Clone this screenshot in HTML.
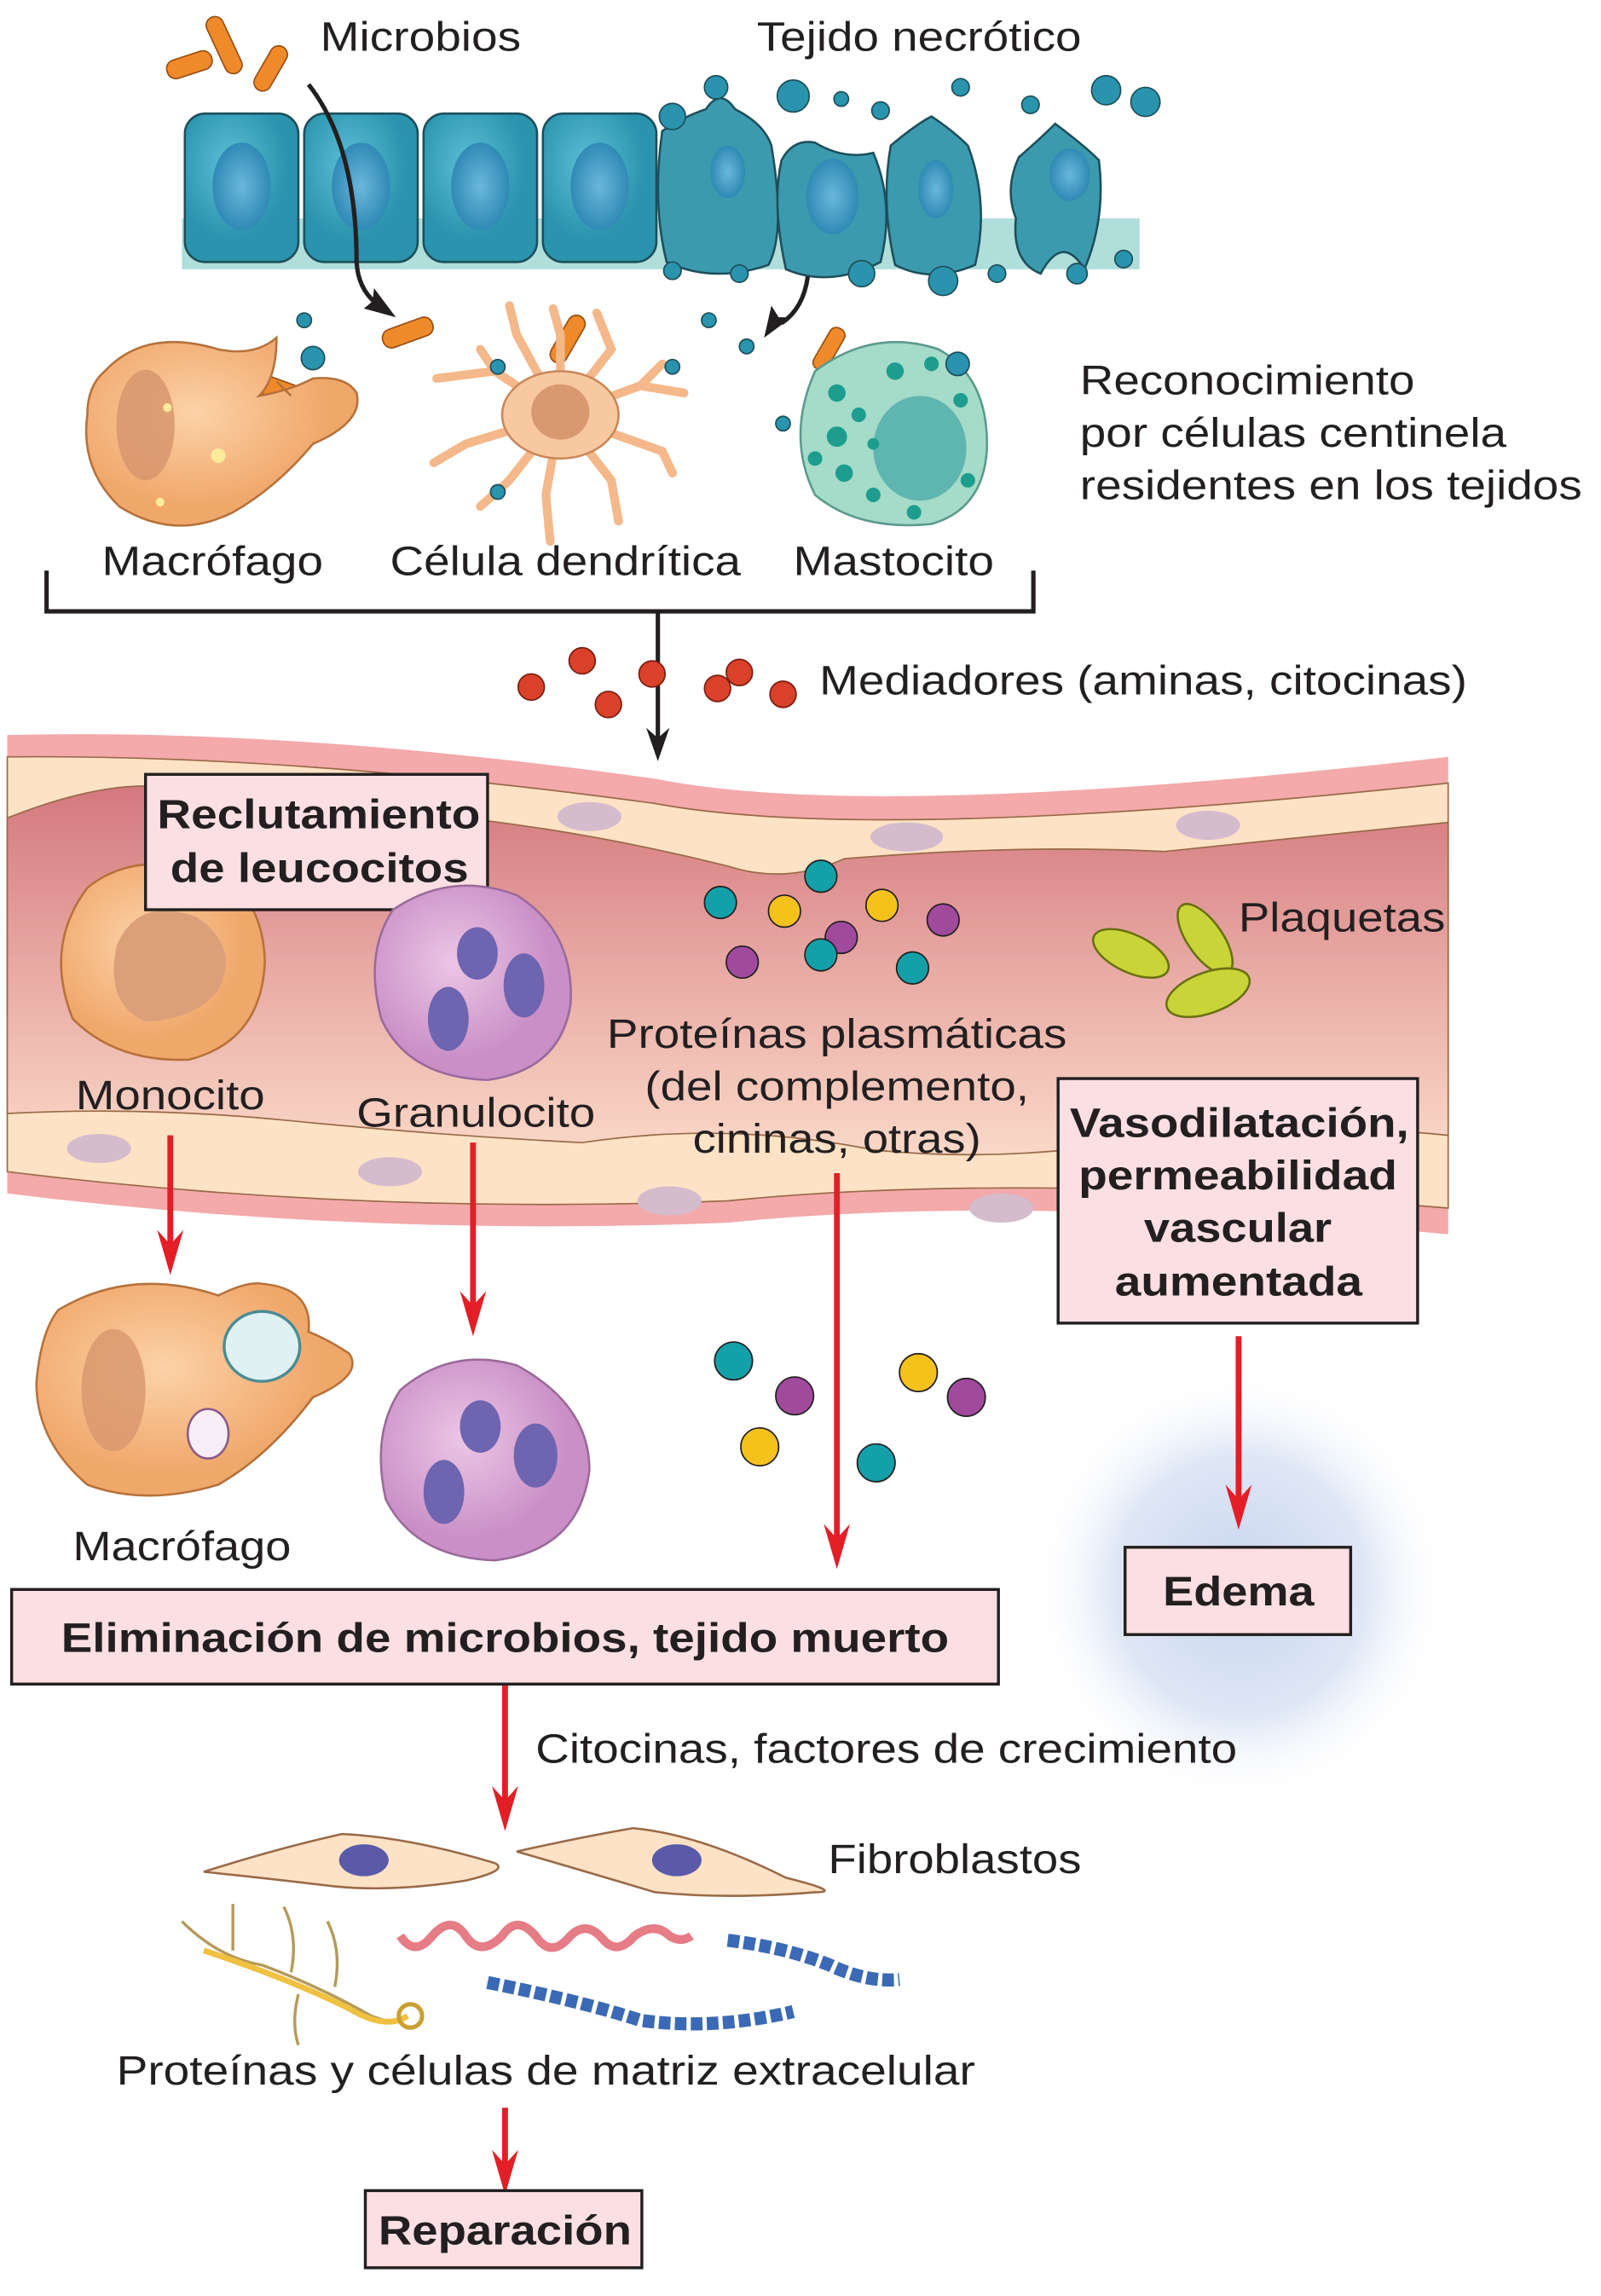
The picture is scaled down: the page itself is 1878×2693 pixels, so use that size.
<!DOCTYPE html>
<html><head><meta charset="utf-8"><style>
html,body{margin:0;padding:0;background:#fff}
svg{display:block}
text{font-family:"Liberation Sans",Arial,sans-serif;fill:#231f20}
.l{font-size:28px}
.b{font-size:28px;font-weight:bold}
</style></head><body>
<svg width="1878" height="2693" viewBox="0 0 1100 1577.4" preserveAspectRatio="none" xmlns="http://www.w3.org/2000/svg">
<defs>
<linearGradient id="lum" x1="0" y1="0" x2="0" y2="1"><stop offset="0" stop-color="#d4787e"/><stop offset="0.5" stop-color="#e8aaa4"/><stop offset="1" stop-color="#fad8c8"/></linearGradient>
<radialGradient id="glow"><stop offset="0" stop-color="#c7d5ee"/><stop offset="0.6" stop-color="#dfe7f6"/><stop offset="1" stop-color="#fff" stop-opacity="0"/></radialGradient>
<radialGradient id="teal" cx="0.4" cy="0.35"><stop offset="0" stop-color="#5cc0d6"/><stop offset="1" stop-color="#2a93ad"/></radialGradient>
<radialGradient id="nuc" cx="0.5" cy="0.5"><stop offset="0" stop-color="#6bb7dc"/><stop offset="1" stop-color="#2f8ab5"/></radialGradient>
<radialGradient id="mac" cx="0.4" cy="0.4"><stop offset="0" stop-color="#fcd2a8"/><stop offset="1" stop-color="#f0a76a"/></radialGradient>
<radialGradient id="gran" cx="0.4" cy="0.4"><stop offset="0" stop-color="#ecc6e6"/><stop offset="1" stop-color="#c98fc6"/></radialGradient>
</defs>

<!-- top epithelium -->
<g>
<rect x="125" y="150" width="658" height="35" fill="#afdedb"/>
<g stroke="#1d4f5a" stroke-width="1.5">
<rect x="127" y="78" width="78" height="102" rx="14" fill="url(#teal)"/>
<rect x="209" y="78" width="78" height="102" rx="14" fill="url(#teal)"/>
<rect x="291" y="78" width="78" height="102" rx="14" fill="url(#teal)"/>
<rect x="373" y="78" width="78" height="102" rx="14" fill="url(#teal)"/>
<path d="M455,90 Q470,80 485,75 Q495,60 505,75 Q525,85 530,100 Q540,160 528,182 Q490,195 458,180 Q448,140 455,90Z" fill="#3c9aaf"/>
<path d="M537,110 Q545,95 560,98 Q580,110 600,105 Q615,140 605,180 Q570,198 540,185 Q530,140 537,110Z" fill="#3c9aaf"/>
<path d="M612,100 Q630,85 640,80 Q655,90 665,100 Q680,140 670,182 Q640,195 615,182 Q605,140 612,100Z" fill="#3c9aaf"/>
<path d="M700,108 Q715,95 725,85 Q745,100 755,110 Q760,150 745,185 Q730,160 715,188 Q695,180 698,150 Q690,130 700,108Z" fill="#3c9aaf"/>
</g>
<g fill="url(#nuc)"><ellipse cx="166" cy="128" rx="20" ry="30"/><ellipse cx="248" cy="128" rx="20" ry="30"/><ellipse cx="330" cy="128" rx="20" ry="30"/><ellipse cx="412" cy="128" rx="20" ry="30"/><ellipse cx="500" cy="118" rx="12" ry="18"/><ellipse cx="572" cy="135" rx="18" ry="26"/><ellipse cx="643" cy="130" rx="12" ry="20"/><ellipse cx="735" cy="120" rx="14" ry="18"/></g>
<g fill="#2a93ad" stroke="#1d4f5a" stroke-width="1"><circle cx="462" cy="80" r="9"/><circle cx="492" cy="60" r="8"/><circle cx="545" cy="66" r="11"/><circle cx="578" cy="68" r="5"/><circle cx="605" cy="76" r="6"/><circle cx="660" cy="60" r="6"/><circle cx="708" cy="72" r="6"/><circle cx="760" cy="62" r="10"/><circle cx="787" cy="70" r="10"/><circle cx="462" cy="186" r="6"/><circle cx="508" cy="188" r="6"/><circle cx="592" cy="188" r="9"/><circle cx="648" cy="193" r="10"/><circle cx="685" cy="188" r="6"/><circle cx="740" cy="188" r="7"/><circle cx="772" cy="178" r="6"/></g>
</g>
<!-- microbes -->
<g fill="#ef8a2a" stroke="#9a4f12" stroke-width="1">
<rect x="148" y="10" width="12" height="42" rx="6" transform="rotate(-25 154 31)"/>
<rect x="180" y="30" width="12" height="34" rx="6" transform="rotate(30 186 47)"/>
<rect x="114" y="38" width="32" height="13" rx="6" transform="rotate(-18 130 44)"/>
<rect x="262" y="222" width="36" height="13" rx="6" transform="rotate(-20 280 228)"/>
<rect x="384" y="215" width="12" height="36" rx="6" transform="rotate(30 390 233)"/>
<rect x="175" y="262" width="38" height="13" rx="6" transform="rotate(20 194 268)"/>
<rect x="564" y="224" width="11" height="32" rx="5" transform="rotate(30 570 240)"/>
</g>
<text class="l" x="220" y="35" textLength="138" lengthAdjust="spacingAndGlyphs">Microbios</text>
<text class="l" x="520" y="35" textLength="223" lengthAdjust="spacingAndGlyphs">Tejido necrótico</text>
<g>
<path d="M212,58 Q245,100 245,180 Q246,198 258,208" fill="none" stroke="#231f20" stroke-width="3"/>
<polygon points="272,218 250,212 256,207 257,198" fill="#231f20"/>
</g>
<g>
<path d="M555,190 Q552,212 537,222" fill="none" stroke="#231f20" stroke-width="3"/>
<polygon points="525,232 530,210 535,218 544,218" fill="#231f20"/>
</g>

<!-- sentinel cells -->
<g>
<path d="M72,255 Q100,225 150,240 Q175,245 190,232 Q190,260 178,272 Q200,268 215,260 Q238,258 245,270 Q250,290 215,305 Q190,335 160,352 Q120,372 82,348 Q55,322 60,285 Q60,265 72,255Z M190,262 L200,272" fill="url(#mac)" stroke="#b6713b" stroke-width="1.5"/>
<ellipse cx="100" cy="292" rx="20" ry="38" fill="#d6946b" opacity="0.8"/>
<g fill="#fdeb9a"><circle cx="115" cy="280" r="3"/><circle cx="150" cy="313" r="5"/><circle cx="110" cy="345" r="3"/></g>
</g>
<g stroke="#f5b88a" stroke-width="6" stroke-linecap="round" fill="none">
<path d="M385,285 L340,255 L300,260 M385,285 L355,230 L350,210 M385,285 L385,230 L380,212 M385,285 L420,240 L410,215 M385,285 L440,265 L470,270 M385,285 L455,310 L462,325 M385,285 L420,330 L425,358 M385,285 L375,340 L378,372 M385,285 L350,330 L330,348 M385,285 L320,305 L298,318 M340,255 L330,240 M440,265 L455,250"/>
<ellipse cx="385" cy="285" rx="40" ry="30" fill="#f8c8a0" stroke="#c9875a" stroke-width="1.5"/>
<ellipse cx="385" cy="283" rx="20" ry="19" fill="#d9996f" stroke="none"/>
</g>
<g>
<path d="M560,255 Q600,225 645,240 Q680,260 678,310 Q675,350 640,360 Q590,365 560,340 Q540,300 560,255Z" fill="#a5dbc9" stroke="#5a9a8c" stroke-width="1.5"/>
<ellipse cx="632" cy="308" rx="32" ry="36" fill="#5fb5b0"/>
<g fill="#1e9d8f"><circle cx="575" cy="270" r="6"/><circle cx="590" cy="285" r="5"/><circle cx="575" cy="300" r="7"/><circle cx="580" cy="325" r="6"/><circle cx="600" cy="340" r="5"/><circle cx="615" cy="255" r="6"/><circle cx="640" cy="250" r="5"/><circle cx="660" cy="275" r="5"/><circle cx="665" cy="330" r="5"/><circle cx="600" cy="305" r="4"/><circle cx="628" cy="352" r="5"/><circle cx="560" cy="315" r="5"/></g>
</g>
<g fill="#2a93ad" stroke="#1d4f5a" stroke-width="1"><circle cx="209" cy="220" r="5"/><circle cx="215" cy="246" r="8"/><circle cx="342" cy="252" r="5"/><circle cx="462" cy="252" r="5"/><circle cx="487" cy="220" r="5"/><circle cx="513" cy="238" r="5"/><circle cx="658" cy="250" r="8"/><circle cx="538" cy="291" r="5"/><circle cx="342" cy="338" r="5"/></g>
<text class="l" x="70" y="395" textLength="152" lengthAdjust="spacingAndGlyphs">Macrófago</text>
<text class="l" x="268" y="395" textLength="241" lengthAdjust="spacingAndGlyphs">Célula dendrítica</text>
<text class="l" x="545" y="395" textLength="138" lengthAdjust="spacingAndGlyphs">Mastocito</text>
<g>
<text class="l" x="742" y="271" textLength="230" lengthAdjust="spacingAndGlyphs">Reconocimiento</text>
<text class="l" x="742" y="307" textLength="293" lengthAdjust="spacingAndGlyphs">por células centinela</text>
<text class="l" x="742" y="343" textLength="345" lengthAdjust="spacingAndGlyphs">residentes en los tejidos</text>
</g>
<path d="M32,392 V420 H710 V392 M452,420 V510" fill="none" stroke="#231f20" stroke-width="3"/>
<polygon points="444,500 452,523 460,500 452,507" fill="#231f20"/>
<g fill="#d9412a" stroke="#7a1d10" stroke-width="1"><circle cx="365" cy="472" r="9"/><circle cx="400" cy="454" r="9"/><circle cx="418" cy="484" r="9"/><circle cx="448" cy="463" r="9"/><circle cx="493" cy="473" r="9"/><circle cx="508" cy="462" r="9"/><circle cx="538" cy="477" r="9"/></g>
<text class="l" x="563" y="477" textLength="445" lengthAdjust="spacingAndGlyphs">Mediadores (aminas, citocinas)</text>

<!-- vessel -->
<g>
<path d="M5,505 Q200,500 450,535 Q600,565 995,520 L995,848 Q700,820 500,840 Q250,850 5,820Z" fill="#f4a9ab"/>
<path d="M5,520 Q200,518 450,552 Q600,580 995,538 L995,830 Q700,805 500,825 Q250,835 5,805Z" fill="#fde2c6" stroke="#9a6a48" stroke-width="1"/>
<path d="M5,562 Q60,540 100,540 Q200,545 300,560 Q400,570 500,595 Q540,608 580,590 Q700,580 800,585 Q900,575 995,565 L995,780 Q900,770 800,780 Q700,800 600,790 Q500,770 400,785 Q300,780 200,770 Q100,760 5,765Z" fill="url(#lum)" stroke="#9a6a48" stroke-width="1"/>
<g fill="#d4bccd"><ellipse cx="405" cy="561" rx="22" ry="10"/><ellipse cx="623" cy="575" rx="25" ry="10"/><ellipse cx="830" cy="567" rx="22" ry="10"/><ellipse cx="68" cy="789" rx="22" ry="10"/><ellipse cx="268" cy="805" rx="22" ry="10"/><ellipse cx="460" cy="825" rx="22" ry="10"/><ellipse cx="688" cy="830" rx="22" ry="10"/></g>
</g>
<g>
<path d="M60,610 Q90,585 140,598 Q180,610 182,660 Q180,715 130,728 Q80,730 50,700 Q30,650 60,610Z" fill="url(#mac)" stroke="#b6713b" stroke-width="1.5"/>
<path d="M80,650 Q95,615 135,630 Q165,650 150,680 Q135,700 100,702 Q72,690 80,650Z" fill="#dba07a"/>
</g>
<rect x="100" y="532" width="235" height="93" fill="#fbdfe2" stroke="#231f20" stroke-width="2"/>
<text class="b" x="108" y="569" textLength="222" lengthAdjust="spacingAndGlyphs">Reclutamiento</text>
<text class="b" x="117" y="606" textLength="205" lengthAdjust="spacingAndGlyphs">de leucocitos</text>
<g>
<path d="M270,625 Q310,598 355,615 Q395,640 392,690 Q385,735 335,742 Q280,740 262,700 Q250,655 270,625Z" fill="url(#gran)" stroke="#9a6a9a" stroke-width="1.5"/>
<g fill="#6e64b0"><ellipse cx="328" cy="655" rx="14" ry="18"/><ellipse cx="360" cy="677" rx="14" ry="22"/><ellipse cx="308" cy="700" rx="14" ry="22"/></g>
</g>
<g stroke="#231f20" stroke-width="1">
<circle cx="495" cy="620" r="11" fill="#13a0a8"/><circle cx="564" cy="602" r="11" fill="#13a0a8"/><circle cx="539" cy="626" r="11" fill="#f5c21b"/><circle cx="606" cy="622" r="11" fill="#f5c21b"/><circle cx="648" cy="632" r="11" fill="#a04a9e"/><circle cx="578" cy="644" r="11" fill="#a04a9e"/><circle cx="564" cy="656" r="11" fill="#13a0a8"/><circle cx="510" cy="661" r="11" fill="#a04a9e"/><circle cx="627" cy="665" r="11" fill="#13a0a8"/>
</g>
<g fill="#c9d438" stroke="#6a7010" stroke-width="1.5">
<ellipse cx="777" cy="655" rx="28" ry="13" transform="rotate(25 777 655)"/><ellipse cx="828" cy="645" rx="28" ry="12" transform="rotate(55 828 645)"/><ellipse cx="830" cy="682" rx="30" ry="14" transform="rotate(-20 830 682)"/>
</g>
<text class="l" x="851" y="640" textLength="142" lengthAdjust="spacingAndGlyphs">Plaquetas</text>
<text class="l" x="52" y="762" textLength="130" lengthAdjust="spacingAndGlyphs">Monocito</text>
<text class="l" x="245" y="774" textLength="164" lengthAdjust="spacingAndGlyphs">Granulocito</text>
<g>
<text class="l" x="417" y="720" textLength="316" lengthAdjust="spacingAndGlyphs">Proteínas plasmáticas</text>
<text class="l" x="443" y="756" textLength="264" lengthAdjust="spacingAndGlyphs">(del complemento,</text>
<text class="l" x="476" y="792" textLength="198" lengthAdjust="spacingAndGlyphs">cininas, otras)</text>
</g>
<ellipse cx="852" cy="1090" rx="145" ry="150" fill="url(#glow)"/>
<rect x="727" y="741" width="247" height="168" fill="#fbdfe2" stroke="#231f20" stroke-width="2"/>
<g><text class="b" x="735" y="781" textLength="233" lengthAdjust="spacingAndGlyphs">Vasodilatación,</text><text class="b" x="741" y="817" textLength="219" lengthAdjust="spacingAndGlyphs">permeabilidad</text><text class="b" x="786" y="853" textLength="129" lengthAdjust="spacingAndGlyphs">vascular</text><text class="b" x="766" y="890" textLength="170" lengthAdjust="spacingAndGlyphs">aumentada</text></g>

<!-- red arrows -->
<g>
<g stroke="#e41e26" stroke-width="4" fill="none">
<path d="M117,780 V860"/><path d="M325,785 V902"/><path d="M575,806 V1062"/><path d="M851,918 V1035"/><path d="M347,1158 V1242"/><path d="M347,1448 V1492"/>
</g>
<g fill="#e41e26">
<polygon points="108,845 117,876 126,845 117,855"/>
<polygon points="316,887 325,918 334,887 325,897"/>
<polygon points="566,1047 575,1078 584,1047 575,1057"/>
<polygon points="842,1020 851,1051 860,1020 851,1030"/>
<polygon points="338,1227 347,1258 356,1227 347,1237"/>
<polygon points="338,1477 347,1508 356,1477 347,1487"/>
</g>
</g>

<!-- lower cells -->
<g>
<path d="M40,900 Q90,870 150,890 Q170,880 180,882 Q215,885 212,915 Q225,920 240,930 Q250,945 215,960 Q185,1000 150,1020 Q100,1035 60,1020 Q25,990 25,950 Q28,915 40,900Z" fill="url(#mac)" stroke="#b6713b" stroke-width="1.5"/>
<ellipse cx="78" cy="955" rx="22" ry="42" fill="#d9996f" opacity="0.85"/>
<ellipse cx="180" cy="925" rx="26" ry="24" fill="#dff1f0" stroke="#4a8c96" stroke-width="2"/>
<ellipse cx="143" cy="985" rx="14" ry="17" fill="#f6eef6" stroke="#8a5a8a" stroke-width="1.5"/>
</g>
<text class="l" x="50" y="1072" textLength="150" lengthAdjust="spacingAndGlyphs">Macrófago</text>
<g>
<path d="M275,955 Q310,925 355,938 Q405,965 405,1010 Q398,1065 340,1072 Q285,1070 265,1030 Q255,985 275,955Z" fill="url(#gran)" stroke="#9a6a9a" stroke-width="1.5"/>
<g fill="#6e64b0"><ellipse cx="330" cy="980" rx="14" ry="18"/><ellipse cx="368" cy="1000" rx="15" ry="22"/><ellipse cx="305" cy="1025" rx="14" ry="22"/></g>
</g>
<g stroke="#231f20" stroke-width="1">
<circle cx="504" cy="935" r="13" fill="#13a0a8"/><circle cx="546" cy="959" r="13" fill="#a04a9e"/><circle cx="631" cy="943" r="13" fill="#f5c21b"/><circle cx="664" cy="960" r="13" fill="#a04a9e"/><circle cx="522" cy="994" r="13" fill="#f5c21b"/><circle cx="602" cy="1005" r="13" fill="#13a0a8"/>
</g>
<rect x="773" y="1063" width="155" height="60" fill="#fbdfe2" stroke="#231f20" stroke-width="2"/>
<text class="b" x="799" y="1103" textLength="104" lengthAdjust="spacingAndGlyphs">Edema</text>
<rect x="8" y="1092" width="678" height="65" fill="#fbdfe2" stroke="#231f20" stroke-width="2"/>
<text class="b" x="42" y="1135" textLength="610" lengthAdjust="spacingAndGlyphs">Eliminación de microbios, tejido muerto</text>
<text class="l" x="368" y="1211" textLength="482" lengthAdjust="spacingAndGlyphs">Citocinas, factores de crecimiento</text>

<g>
<path d="M140,1286 Q190,1270 235,1260 Q280,1262 340,1280 Q350,1285 320,1292 Q270,1300 230,1296 Q180,1290 140,1286Z" fill="#fde2c6" stroke="#9a6a48" stroke-width="1.5"/>
<path d="M355,1272 Q400,1262 435,1256 Q480,1260 540,1290 Q580,1300 560,1300 Q500,1305 450,1300 Q400,1285 355,1272Z" fill="#fde2c6" stroke="#9a6a48" stroke-width="1.5"/>
<ellipse cx="250" cy="1278" rx="17" ry="11" fill="#5a5aa8"/><ellipse cx="465" cy="1278" rx="17" ry="11" fill="#5a5aa8"/>
</g>
<text class="l" x="569" y="1287" textLength="174" lengthAdjust="spacingAndGlyphs">Fibroblastos</text>
<g fill="none">
<path d="M125,1320 Q150,1345 180,1350 Q220,1365 255,1385 L270,1390 M160,1340 L160,1308 M200,1355 Q205,1330 195,1310 M230,1365 Q235,1340 225,1320 M205,1370 Q200,1390 205,1405" stroke="#b59a5a" stroke-width="2"/>
<path d="M140,1340 Q200,1360 240,1380 Q265,1395 280,1385" stroke="#f0c040" stroke-width="4"/>
<circle cx="282" cy="1385" r="8" stroke="#c9a030" stroke-width="3"/>
<path d="M275,1330 Q285,1345 297,1330 Q310,1315 320,1330 Q330,1345 345,1330 Q355,1315 368,1330 Q378,1345 390,1332 Q402,1318 414,1332 Q424,1344 436,1330 Q450,1320 460,1330 Q468,1335 475,1330" stroke="#e67c86" stroke-width="6"/>
<path d="M335,1362 Q400,1375 440,1388 Q490,1395 545,1382" stroke="#3b69b5" stroke-width="9" stroke-dasharray="8 3"/>
<path d="M500,1333 Q540,1338 570,1350 Q595,1362 618,1360" stroke="#3b69b5" stroke-width="9" stroke-dasharray="8 3"/>
</g>
<text class="l" x="80" y="1432" textLength="590" lengthAdjust="spacingAndGlyphs">Proteínas y células de matriz extracelular</text>
<rect x="251" y="1505" width="190" height="53" fill="#fbdfe2" stroke="#231f20" stroke-width="2"/>
<text class="b" x="260" y="1542" textLength="174" lengthAdjust="spacingAndGlyphs">Reparación</text>
</svg>
</body></html>
